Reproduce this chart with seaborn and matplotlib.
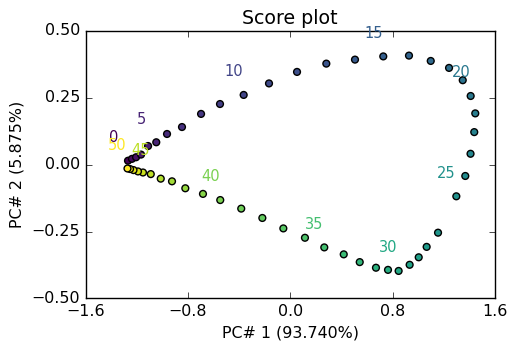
import numpy as np
import pandas as pd
import matplotlib
matplotlib.use('Agg')
import matplotlib.pyplot as plt
import seaborn as sns

# scores, sample 0..50
pc1 = [-1.268, -1.237, -1.205, -1.166, -1.111, -1.047, -0.963, -0.846, -0.697, -0.549,
       -0.364, -0.166, 0.053, 0.282, 0.506, 0.727, 0.928, 1.098, 1.241, 1.348,
       1.410, 1.446, 1.438, 1.409, 1.368, 1.298, 1.155, 1.066, 1.004, 0.933,
       0.847, 0.764, 0.670, 0.543, 0.418, 0.266, 0.115, -0.054, -0.218, -0.383,
       -0.547, -0.682, -0.820, -0.924, -1.012, -1.090, -1.151, -1.190, -1.225, -1.252,
       -1.272]
pc2 = [0.015, 0.022, 0.028, 0.038, 0.070, 0.084, 0.115, 0.141, 0.190, 0.227,
       0.261, 0.304, 0.347, 0.378, 0.393, 0.405, 0.408, 0.388, 0.362, 0.316,
       0.257, 0.192, 0.122, 0.041, -0.042, -0.118, -0.254, -0.307, -0.346, -0.374,
       -0.397, -0.393, -0.385, -0.364, -0.335, -0.309, -0.273, -0.238, -0.199, -0.164,
       -0.132, -0.109, -0.088, -0.062, -0.052, -0.035, -0.029, -0.025, -0.020, -0.016,
       -0.014]
sample = list(range(51))
labelled = [0, 5, 10, 15, 20, 25, 30, 35, 40, 45, 50]
xticks = [-1.6, -0.8, 0.0, 0.8, 1.6]
yticks = [-0.50, -0.25, 0.00, 0.25, 0.50]

df = pd.DataFrame({'pc1': pc1, 'pc2': pc2, 'sample': sample})

plt.style.use('classic')
plt.rcParams['font.size'] = 11.4

fig = plt.figure(figsize=(5.17, 3.51), dpi=100)
ax = fig.add_axes([0.1654, 0.1496, 0.792, 0.7621])

sns.scatterplot(data=df, x='pc1', y='pc2', hue='sample', palette='viridis',
                hue_norm=(0, 50), s=24, edgecolor='black', linewidth=1,
                legend=False, ax=ax, zorder=3)

cmap = plt.get_cmap('viridis')
for i in labelled:
    ax.text(pc1[i] - 0.15, pc2[i] + 0.07, str(i), color=cmap(i / 50),
            fontsize=10.5, ha='left', va='baseline')

ax.set_xlim(-1.6, 1.6)
ax.set_ylim(-0.5, 0.5)
ax.set_xticks(xticks)
ax.set_yticks(yticks)
ax.set_xlabel('PC# 1 (93.740%)')
ax.set_ylabel('PC# 2 (5.875%)')
ax.set_title('Score plot')

fig.savefig('out.png', dpi=100)
